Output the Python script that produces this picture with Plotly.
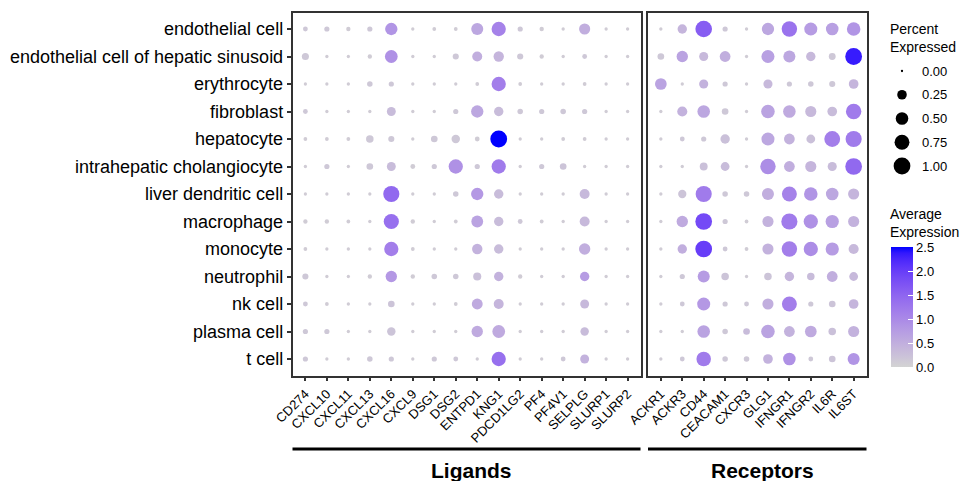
import numpy as np
import plotly.graph_objects as go

cell_types = ["endothelial cell", "endothelial cell of hepatic sinusoid", "erythrocyte",
              "fibroblast", "hepatocyte", "intrahepatic cholangiocyte", "liver dendritic cell",
              "macrophage", "monocyte", "neutrophil", "nk cell", "plasma cell", "t cell"]

ligands = ["CD274", "CXCL10", "CXCL11", "CXCL13", "CXCL16", "CXCL9", "DSG1", "DSG2",
           "ENTPD1", "KNG1", "PDCD1LG2", "PF4", "PF4V1", "SELPLG", "SLURP1", "SLURP2"]
receptors = ["ACKR1", "ACKR3", "CD44", "CEACAM1", "CXCR3", "GLG1", "IFNGR1", "IFNGR2", "IL6R", "IL6ST"]

# percent expressed (rows = cell types, cols = genes)
pct_lig = [
    [0.03, 0.04, 0.02, 0.04, 0.48, 0.005, 0.01, 0.01, 0.45, 0.68, 0.04, 0.02, 0.005, 0.37, 0.005, 0.005],
    [0.11, 0.005, 0.005, 0.02, 0.52, 0.005, 0.005, 0.07, 0.28, 0.31, 0.07, 0.02, 0.005, 0.03, 0.005, 0.005],
    [0.005, 0.005, 0.005, 0.05, 0.04, 0.005, 0.005, 0.005, 0.01, 0.68, 0.01, 0.005, 0.005, 0.01, 0.005, 0.005],
    [0.03, 0.005, 0.005, 0.005, 0.21, 0.005, 0.005, 0.04, 0.48, 0.24, 0.05, 0.04, 0.05, 0.04, 0.005, 0.005],
    [0.01, 0.01, 0.01, 0.13, 0.07, 0.005, 0.09, 0.18, 0.03, 1.0, 0.005, 0.005, 0.01, 0.01, 0.005, 0.005],
    [0.005, 0.04, 0.005, 0.09, 0.21, 0.03, 0.04, 0.68, 0.04, 0.68, 0.005, 0.04, 0.09, 0.005, 0.005, 0.005],
    [0.005, 0.005, 0.005, 0.005, 0.91, 0.005, 0.005, 0.05, 0.48, 0.24, 0.005, 0.005, 0.005, 0.28, 0.005, 0.005],
    [0.02, 0.02, 0.01, 0.005, 0.79, 0.02, 0.005, 0.01, 0.43, 0.24, 0.03, 0.01, 0.005, 0.28, 0.005, 0.005],
    [0.01, 0.005, 0.005, 0.005, 0.68, 0.01, 0.005, 0.005, 0.31, 0.24, 0.005, 0.005, 0.005, 0.39, 0.005, 0.005],
    [0.07, 0.005, 0.005, 0.02, 0.39, 0.02, 0.05, 0.05, 0.16, 0.24, 0.02, 0.005, 0.005, 0.24, 0.005, 0.005],
    [0.03, 0.01, 0.005, 0.005, 0.09, 0.005, 0.005, 0.01, 0.35, 0.28, 0.005, 0.005, 0.005, 0.21, 0.005, 0.005],
    [0.04, 0.04, 0.005, 0.005, 0.18, 0.005, 0.005, 0.005, 0.39, 0.52, 0.005, 0.005, 0.005, 0.18, 0.005, 0.005],
    [0.04, 0.005, 0.005, 0.05, 0.04, 0.005, 0.04, 0.03, 0.005, 0.68, 0.005, 0.005, 0.03, 0.21, 0.005, 0.005],
]
# average expression
exp_lig = [
    [0.15, 0.15, 0.1, 0.15, 0.85, 0.1, 0.1, 0.1, 0.6, 1.1, 0.15, 0.1, 0.1, 0.5, 0.1, 0.1],
    [0.15, 0.1, 0.1, 0.1, 0.9, 0.1, 0.1, 0.15, 0.5, 0.4, 0.15, 0.1, 0.1, 0.15, 0.1, 0.1],
    [0.1, 0.1, 0.1, 0.15, 0.15, 0.1, 0.1, 0.1, 0.1, 1.15, 0.1, 0.1, 0.1, 0.1, 0.1, 0.1],
    [0.15, 0.1, 0.1, 0.1, 0.3, 0.1, 0.1, 0.15, 0.6, 0.3, 0.15, 0.15, 0.15, 0.15, 0.1, 0.1],
    [0.1, 0.1, 0.1, 0.15, 0.15, 0.1, 0.15, 0.15, 0.1, 2.5, 0.1, 0.1, 0.1, 0.1, 0.1, 0.1],
    [0.1, 0.15, 0.1, 0.15, 0.3, 0.1, 0.15, 0.9, 0.15, 1.2, 0.1, 0.15, 0.2, 0.1, 0.1, 0.1],
    [0.1, 0.1, 0.1, 0.1, 1.45, 0.1, 0.1, 0.15, 0.8, 0.3, 0.1, 0.1, 0.1, 0.35, 0.1, 0.1],
    [0.1, 0.1, 0.1, 0.1, 1.35, 0.1, 0.1, 0.1, 0.65, 0.3, 0.15, 0.1, 0.1, 0.35, 0.1, 0.1],
    [0.1, 0.1, 0.1, 0.1, 1.15, 0.1, 0.1, 0.1, 0.45, 0.3, 0.1, 0.1, 0.1, 0.5, 0.1, 0.1],
    [0.15, 0.1, 0.1, 0.1, 0.8, 0.1, 0.15, 0.15, 0.25, 0.45, 0.1, 0.1, 0.1, 0.75, 0.1, 0.1],
    [0.15, 0.1, 0.1, 0.1, 0.2, 0.1, 0.1, 0.1, 0.55, 0.4, 0.1, 0.1, 0.1, 0.35, 0.1, 0.1],
    [0.15, 0.15, 0.1, 0.1, 0.2, 0.1, 0.1, 0.1, 0.55, 0.55, 0.1, 0.1, 0.1, 0.3, 0.1, 0.1],
    [0.15, 0.1, 0.1, 0.15, 0.15, 0.1, 0.15, 0.15, 0.1, 1.35, 0.1, 0.1, 0.15, 0.45, 0.1, 0.1],
]

pct_rec = [
    [0.005, 0.24, 0.97, 0.04, 0.005, 0.48, 0.82, 0.55, 0.5, 0.6],
    [0.09, 0.39, 0.22, 0.34, 0.005, 0.55, 0.45, 0.24, 0.1, 1.0],
    [0.42, 0.005, 0.22, 0.04, 0.005, 0.22, 0.04, 0.05, 0.07, 0.26],
    [0.005, 0.29, 0.5, 0.09, 0.005, 0.6, 0.5, 0.37, 0.26, 0.82],
    [0.005, 0.03, 0.04, 0.24, 0.005, 0.55, 0.34, 0.2, 0.87, 0.91],
    [0.005, 0.005, 0.15, 0.2, 0.005, 0.82, 0.34, 0.37, 0.22, 0.99],
    [0.005, 0.17, 0.91, 0.05, 0.05, 0.45, 0.76, 0.6, 0.5, 0.37],
    [0.005, 0.39, 0.99, 0.04, 0.01, 0.37, 0.91, 0.68, 0.57, 0.37],
    [0.005, 0.24, 0.99, 0.03, 0.01, 0.37, 0.82, 0.68, 0.57, 0.29],
    [0.005, 0.04, 0.45, 0.13, 0.005, 0.13, 0.24, 0.13, 0.34, 0.2],
    [0.005, 0.03, 0.55, 0.04, 0.03, 0.37, 0.76, 0.04, 0.09, 0.26],
    [0.005, 0.005, 0.5, 0.05, 0.09, 0.6, 0.34, 0.42, 0.13, 0.37],
    [0.005, 0.03, 0.71, 0.05, 0.05, 0.26, 0.5, 0.03, 0.09, 0.45],
]
exp_rec = [
    [0.1, 0.4, 1.6, 0.15, 0.1, 0.6, 1.3, 0.75, 0.7, 0.85],
    [0.15, 0.65, 0.35, 0.5, 0.1, 0.7, 0.6, 0.35, 0.15, 2.35],
    [0.65, 0.1, 0.45, 0.15, 0.1, 0.35, 0.15, 0.15, 0.15, 0.4],
    [0.1, 0.45, 0.6, 0.15, 0.1, 0.65, 0.55, 0.35, 0.3, 1.2],
    [0.1, 0.15, 0.15, 0.25, 0.1, 0.6, 0.45, 0.25, 1.15, 1.2],
    [0.1, 0.1, 0.25, 0.3, 0.1, 0.95, 0.5, 0.4, 0.3, 1.45],
    [0.1, 0.2, 1.2, 0.15, 0.15, 0.5, 1.1, 0.85, 0.6, 0.4],
    [0.1, 0.55, 1.85, 0.15, 0.1, 0.45, 1.2, 0.9, 0.7, 0.45],
    [0.1, 0.5, 2.0, 0.15, 0.1, 0.45, 1.15, 0.95, 0.75, 0.35],
    [0.1, 0.15, 0.75, 0.2, 0.1, 0.2, 0.4, 0.3, 0.5, 0.35],
    [0.1, 0.15, 0.8, 0.15, 0.15, 0.5, 1.15, 0.15, 0.2, 0.4],
    [0.1, 0.1, 0.65, 0.15, 0.3, 0.65, 0.45, 0.55, 0.25, 0.45],
    [0.1, 0.15, 1.2, 0.15, 0.15, 0.45, 0.9, 0.15, 0.2, 0.85],
]

size_breaks = [0.0, 0.25, 0.5, 0.75, 1.0]
size_labels = ["0.00", "0.25", "0.50", "0.75", "1.00"]
color_breaks = [0.0, 0.5, 1.0, 1.5, 2.0, 2.5]
color_labels = ["0.0", "0.5", "1.0", "1.5", "2.0", "2.5"]

W, H = 968, 481
FONT = "Liberation Sans, Arial, sans-serif"


# ---- Lab-interpolated colour ramp (lightgrey -> blue) ----
M = np.array([[0.4124, 0.3576, 0.1805], [0.2126, 0.7152, 0.0722], [0.0193, 0.1192, 0.9505]])
Minv = np.linalg.inv(M)
WHITE = np.array([0.95047, 1.0, 1.08883])


def rgb_to_lab(rgb):
    c = np.array(rgb, float) / 255
    lin = np.where(c <= 0.04045, c / 12.92, ((c + 0.055) / 1.055) ** 2.4)
    t = (M @ lin) / WHITE
    f = np.where(t > 0.008856, np.cbrt(t), 7.787 * t + 16 / 116)
    return np.array([116 * f[1] - 16, 500 * (f[0] - f[1]), 200 * (f[1] - f[2])])


def lab_to_rgb(lab):
    L, a, b = lab
    fy = (L + 16) / 116
    fx = fy + a / 500
    fz = fy - b / 200
    f = np.array([fx, fy, fz])
    t = np.where(f ** 3 > 0.008856, f ** 3, (f - 16 / 116) / 7.787)
    lin = np.clip(Minv @ (t * WHITE), 0, 1)
    s = np.where(lin <= 0.0031308, 12.92 * lin, 1.055 * lin ** (1 / 2.4) - 0.055)
    r, g, b_ = np.clip(np.round(s * 255), 0, 255).astype(int)
    return f"rgb({r},{g},{b_})"


lab0 = rgb_to_lab((211, 211, 211))
lab1 = rgb_to_lab((0, 0, 255))
colorscale = [[t, lab_to_rgb(lab0 + (lab1 - lab0) * t)] for t in np.linspace(0, 1, 21)]


def dot_size(p):
    return 2.3 + 14.5 * np.sqrt(np.array(p, float))


fig = go.Figure()


def add_panel(genes, pct, expv, xa, ya):
    xs, ys, ps, es = [], [], [], []
    for i, ct in enumerate(cell_types):
        for j, g in enumerate(genes):
            xs.append(g)
            ys.append(ct)
            ps.append(pct[i][j])
            es.append(expv[i][j])
    fig.add_trace(go.Scatter(
        x=xs, y=ys, mode="markers", xaxis=xa, yaxis=ya, showlegend=False,
        marker=dict(size=dot_size(ps), sizemode="diameter", color=es,
                    coloraxis="coloraxis", line=dict(width=0), opacity=1),
    ))


add_panel(ligands, pct_lig, exp_lig, "x", "y")
add_panel(receptors, pct_rec, exp_rec, "x2", "y2")

# size legend
fig.add_trace(go.Scatter(
    x=[0] * len(size_breaks), y=size_breaks, mode="markers", xaxis="x3", yaxis="y3",
    showlegend=False, hoverinfo="skip",
    marker=dict(size=dot_size(size_breaks), sizemode="diameter", color="black", opacity=1,
                line=dict(width=0)),
))

left_dom = [292.5 / W, 640.5 / W]
right_dom = [648 / W, 866.5 / W]
y_dom = [1 - 375.5 / H, 1 - 12.5 / H]

axis_common = dict(showline=True, mirror=True, linecolor="#333333", linewidth=1.5,
                   showgrid=False, zeroline=False, ticks="outside", ticklen=4,
                   tickwidth=1.5, tickcolor="#333333")

fig.update_layout(
    width=W, height=H,
    margin=dict(l=0, r=0, t=0, b=0),
    paper_bgcolor="white", plot_bgcolor="white",
    font=dict(family=FONT, color="black"),
    xaxis=dict(domain=left_dom, type="category", categoryorder="array", categoryarray=ligands,
               range=[-0.6, len(ligands) - 0.4], tickangle=-45,
               tickfont=dict(size=13, color="black"), anchor="y", automargin=False, **axis_common),
    yaxis=dict(domain=y_dom, type="category", categoryorder="array", categoryarray=cell_types,
               range=[len(cell_types) - 0.4, -0.6], tickfont=dict(size=18, color="black"),
               anchor="x", automargin=False, ticklabelstandoff=0, **axis_common),
    xaxis2=dict(domain=right_dom, type="category", categoryorder="array", categoryarray=receptors,
                range=[-0.6, len(receptors) - 0.4], tickangle=-45,
                tickfont=dict(size=13, color="black"), anchor="y2", automargin=False, **axis_common),
    yaxis2=dict(domain=y_dom, type="category", categoryorder="array", categoryarray=cell_types,
                range=[len(cell_types) - 0.4, -0.6], showticklabels=False, anchor="x2",
                automargin=False, showline=True, mirror=True, linecolor="#333333", linewidth=1.5,
                showgrid=False, zeroline=False, ticks=""),
    xaxis3=dict(domain=[890 / W, 914 / W], range=[-1, 1], visible=False, anchor="y3", fixedrange=True),
    yaxis3=dict(domain=[1 - 175.5 / H, 1 - 61.5 / H], range=[1.1, -0.1], visible=False,
                anchor="x3", fixedrange=True),
    coloraxis=dict(
        colorscale=colorscale, cmin=0, cmax=2.5,
        colorbar=dict(
            x=891 / W, xanchor="left", y=1 - 367 / H, yanchor="bottom",
            len=120, lenmode="pixels", thickness=22, thicknessmode="pixels",
            xpad=0, ypad=0, outlinewidth=0,
            tickvals=color_breaks, ticktext=color_labels, ticks="inside", tickcolor="white",
            ticklen=5, tickwidth=1, tickfont=dict(size=13, color="black"),
        ),
    ),
)

# legend titles
fig.add_annotation(x=888 / W, y=1 - 19 / H, xref="paper", yref="paper", xanchor="left", yanchor="top",
                   text="Percent<br>Expressed", showarrow=False, align="left",
                   font=dict(size=14, color="black"))
fig.add_annotation(x=888 / W, y=1 - 204 / H, xref="paper", yref="paper", xanchor="left", yanchor="top",
                   text="Average<br>Expression", showarrow=False, align="left",
                   font=dict(size=14, color="black"))
for v, lab in zip(size_breaks, size_labels):
    fig.add_annotation(x=920 / W, y=v, xref="paper", yref="y3", xanchor="left", yanchor="middle",
                       text=lab, showarrow=False, font=dict(size=13, color="black"))

# group brackets and labels
for dom, label in [(left_dom, "Ligands"), (right_dom, "Receptors")]:
    fig.add_shape(type="line", xref="paper", yref="paper", x0=dom[0], x1=dom[1],
                  y0=1 - 449 / H, y1=1 - 449 / H, line=dict(color="black", width=3))
    fig.add_annotation(x=(dom[0] + dom[1]) / 2 + 5 / W, y=1 - 470 / H, xref="paper", yref="paper",
                       xanchor="center", yanchor="middle", text=f"<b>{label}</b>", showarrow=False,
                       font=dict(size=21, color="black"))

fig.write_html("out.html", config={"displayModeBar": False},
               post_script="document.body.style.margin='0px';")
